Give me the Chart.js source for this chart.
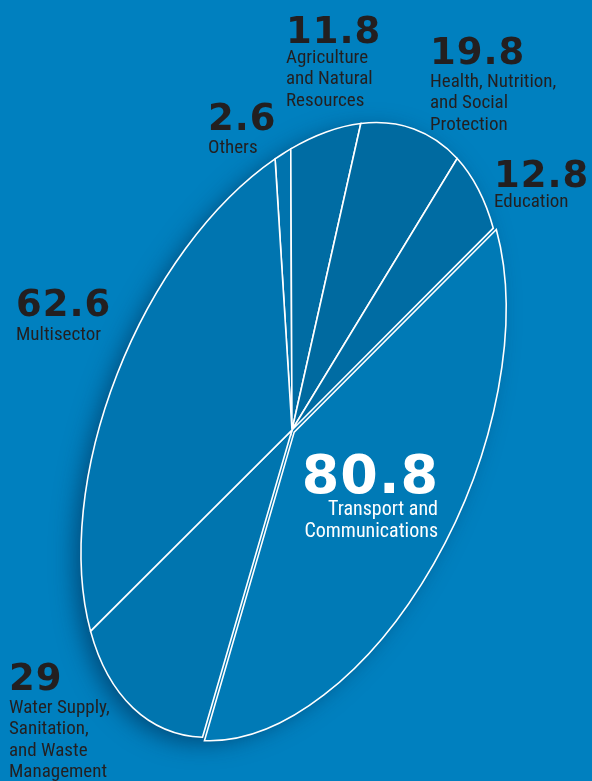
<!DOCTYPE html>
<html>
<head>
<meta charset="utf-8">
<script src="https://cdn.jsdelivr.net/npm/chart.js@4/dist/chart.umd.min.js"></script>
<style>
html, body { margin: 0; padding: 0; background: #0080bf; }
#wrap { position: relative; width: 592px; height: 781px; }
</style>
</head>
<body>
<div id="wrap"><canvas id="sectors" width="592" height="781"></canvas></div>
<script>
// sectors, clockwise from the top
var sectorNames = ['Others', 'Agriculture and Natural Resources', 'Health, Nutrition, and Social Protection',
    'Education', 'Transport and Communications', 'Water Supply, Sanitation, and Waste Management', 'Multisector'];
var sectorValues = [2.6, 11.8, 19.8, 12.8, 80.8, 29, 62.6];
var sectorLines = [
    ['Others'],
    ['Agriculture', 'and Natural', 'Resources'],
    ['Health, Nutrition,', 'and Social', 'Protection'],
    ['Education'],
    ['Transport and', 'Communications'],
    ['Water Supply,', 'Sanitation,', 'and Waste', 'Management'],
    ['Multisector']
];
var sectorColors = ['#0073ad', '#006ca3', '#006aa0', '#006ca3', '#007ab6', '#0075af', '#0075b0'];
var sectorOffsets = [0, 0, 0, 0, 18, 0, 0];

// where each label block sits: x, baseline of the number, baseline of first text line, align
var labelPos = [
    [208, 130, 153, 'left'],
    [286, 43, 63, 'left'],
    [430, 64, 87, 'left'],
    [494, 187, 207, 'left'],
    [438, 493, 515, 'right'],
    [9, 690, 713, 'left'],
    [16, 316, 340, 'left']
];

// the pie is drawn as a circle and pushed through this matrix to get the tilted ellipse
var tilt = { x: 292, y: 430, m: [127, -299, 168.5, 71.5], a: 325, b: 183, angle: -67 };

var tiltPlugin = {
    id: 'tilt',
    beforeDatasetsDraw: function (chart) {
        var ctx = chart.ctx;
        var arc = chart.getDatasetMeta(0).data[0];
        var R = arc.outerRadius;

        // soft shadow under the ellipse
        ctx.save();
        ctx.shadowColor = 'rgba(0, 35, 70, 0.6)';
        ctx.shadowBlur = 24;
        ctx.shadowOffsetX = -7;
        ctx.shadowOffsetY = 6;
        ctx.fillStyle = '#0075b0';
        ctx.beginPath();
        ctx.ellipse(tilt.x, tilt.y, tilt.a - 2, tilt.b - 2, tilt.angle * Math.PI / 180, 0, Math.PI * 2);
        ctx.fill();
        ctx.restore();

        var base = ctx.getTransform();
        ctx.save();
        ctx.translate(tilt.x, tilt.y);
        ctx.transform(tilt.m[0] / R, tilt.m[1] / R, tilt.m[2] / R, tilt.m[3] / R, 0, 0);
        ctx.translate(-arc.x, -arc.y);
        // keep the white outlines an even width
        ctx._plainStroke = ctx.stroke;
        ctx.stroke = function () {
            this.save();
            this.setTransform(base);
            this._plainStroke.apply(this, arguments);
            this.restore();
        };
    },
    afterDatasetsDraw: function (chart) {
        var ctx = chart.ctx;
        ctx.stroke = ctx._plainStroke;
        ctx.restore();
    },
    afterDraw: function (chart) {
        var ctx = chart.ctx;
        ctx.save();
        ctx.textBaseline = 'alphabetic';
        for (var i = 0; i < sectorValues.length; i++) {
            var p = labelPos[i];
            var inside = i === 4;
            ctx.fillStyle = inside ? '#ffffff' : '#231f20';
            ctx.textAlign = p[3];

            // value
            ctx.font = 'bold ' + (inside ? 54 : 37) + 'px "DejaVu Sans", sans-serif';
            ctx.letterSpacing = '1px';
            ctx.fillText(String(sectorValues[i]), p[3] === 'right' ? p[0] + 1 : p[0], p[1]);
            ctx.letterSpacing = '0px';

            // name
            ctx.font = (inside ? 20 : 19) + 'px "Liberation Sans Narrow", "Roboto Condensed", "Liberation Sans", sans-serif';
            var lh = inside ? 22 : 21.3;
            for (var k = 0; k < sectorLines[i].length; k++) {
                ctx.fillText(sectorLines[i][k], p[0], p[2] + k * lh);
            }
        }
        ctx.restore();
    }
};

new Chart(document.getElementById('sectors'), {
    type: 'pie',
    data: {
        labels: sectorNames,
        datasets: [{
            data: sectorValues,
            backgroundColor: sectorColors,
            borderColor: '#ffffff',
            borderWidth: 1.6,
            borderJoinStyle: 'miter',
            offset: sectorOffsets,
            clip: false
        }]
    },
    options: {
        responsive: false,
        animation: false,
        rotation: 48.4,
        plugins: {
            legend: { display: false },
            tooltip: { enabled: false }
        }
    },
    plugins: [tiltPlugin]
});
</script>
</body>
</html>
